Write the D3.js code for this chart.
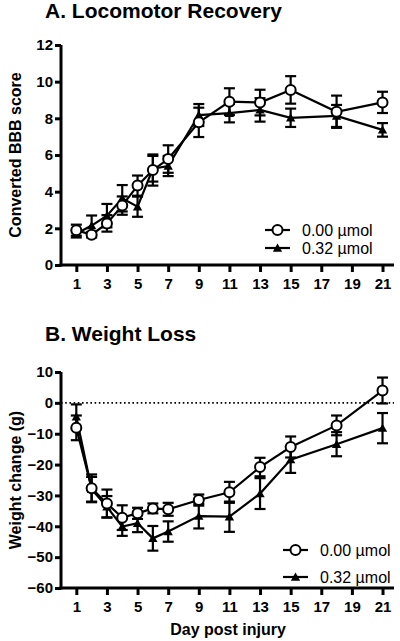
<!DOCTYPE html>
<html>
<head>
<meta charset="utf-8">
<script src="https://cdn.jsdelivr.net/npm/d3@7"></script>
<style>
html,body{margin:0;padding:0;background:#fff;}
svg{display:block;font-family:"Liberation Sans",Arial,Helvetica,sans-serif;}
</style>
</head>
<body>
<svg id="chart" width="400" height="641"></svg>
<script>
const days = [1, 2, 3, 4, 5, 6, 7, 9, 11, 13, 15, 18, 21];
const xTicks = [1, 3, 5, 7, 9, 11, 13, 15, 17, 19, 21];
const seriesNames = ["0.00 µmol", "0.32 µmol"];

const bbbVeh    = [1.9, 1.65, 2.27, 3.24, 4.33, 5.18, 5.78, 7.78, 8.91, 8.86, 9.55, 8.36, 8.87];
const bbbVehErr = [0.3, 0.15, 0.45, 0.5, 0.55, 0.85, 0.75, 0.8, 0.73, 0.7, 0.75, 0.88, 0.58];
const bbbTrt    = [1.7, 2.15, 2.69, 3.64, 3.18, 5.25, 5.4, 8.18, 8.28, 8.46, 8.03, 8.13, 7.37];
const bbbTrtErr = [0.2, 0.55, 0.64, 0.72, 0.55, 0.7, 0.55, 0.6, 0.5, 0.64, 0.5, 0.6, 0.37];
const bbbTicks  = [0, 2, 4, 6, 8, 10, 12];

const wVeh    = [-8.1, -27.7, -32.6, -37.2, -35.8, -34.2, -34.5, -31.5, -29.0, -20.8, -14.3, -7.3, 4.0];
const wVehErr = [4, 4.5, 4.5, 4, 1.8, 1.6, 2.1, 1.8, 3.4, 3, 3.4, 3.2, 4.2];
const wTrt    = [-4.5, -28, -33.7, -40.1, -39, -43.9, -41.7, -36.7, -36.9, -29.4, -18.4, -13.4, -8.2];
const wTrtErr = [4, 4, 3.5, 3, 2.9, 4, 3.3, 4, 4.9, 5, 4.3, 3.9, 4.9];
const wTicks  = [-60, -50, -40, -30, -20, -10, 0, 10];

const svg = d3.select("#chart");
const x = d3.scaleLinear().domain([0, 21.75]).range([61, 394]);

function panel(opts) {
  const g = svg.append("g");
  const y = d3.scaleLinear().domain(opts.yDomain).range([opts.yBottom, opts.yTop]);

  g.append("text").attr("x", 45).attr("y", opts.titleY)
    .attr("font-size", 21).attr("font-weight", "bold").text(opts.title);

  g.append("text")
    .attr("transform", `translate(21,${(opts.yTop + opts.yBottom) / 2}) rotate(-90)`)
    .attr("text-anchor", "middle").attr("font-size", 16).attr("font-weight", "bold")
    .text(opts.yLabel);

  if (opts.zeroLine) {
    g.append("line").attr("x1", x(0)).attr("x2", x.range()[1])
      .attr("y1", y(0)).attr("y2", y(0))
      .attr("stroke", "#000").attr("stroke-width", 1.6).attr("stroke-dasharray", "1.6,2.6");
  }

  const yAxis = g.append("g").attr("transform", `translate(${x(0)},0)`)
    .call(d3.axisLeft(y).tickValues(opts.yTicks).tickSize(6).tickSizeOuter(0).tickPadding(2));
  const xAxis = g.append("g").attr("transform", `translate(0,${opts.yBottom})`)
    .call(d3.axisBottom(x).tickValues(xTicks).tickSize(7).tickSizeOuter(0).tickPadding(6));
  [yAxis, xAxis].forEach(a => {
    a.select(".domain").attr("stroke-width", 3).attr("stroke", "#000");
    a.selectAll(".tick line").attr("stroke-width", 3).attr("stroke", "#000");
    a.selectAll(".tick text").attr("font-size", 15).attr("font-weight", "bold")
      .attr("font-family", '"Liberation Sans",Arial,sans-serif').attr("fill", "#000");
  });
  yAxis.select(".domain").attr("d", `M0,${opts.yTop}V${opts.yBottom + 1.5}`);
  xAxis.select(".domain").attr("d", `M${x(0) - 1.5},0H${x.range()[1]}`);

  const line = d3.line().x(d => x(d.day)).y(d => y(d.v));
  const tri = d3.symbol().type(d3.symbolTriangle).size(38);

  function drawSeries(vals, errs, marker) {
    const data = days.map((d, i) => ({day: d, v: vals[i], e: errs[i]}));
    const sg = g.append("g");
    sg.append("path").datum(data).attr("d", line)
      .attr("fill", "none").attr("stroke", "#000").attr("stroke-width", 2.2);
    const eb = sg.selectAll(".eb").data(data).enter().append("g");
    eb.append("line").attr("x1", d => x(d.day)).attr("x2", d => x(d.day))
      .attr("y1", d => y(d.v - d.e)).attr("y2", d => y(d.v + d.e))
      .attr("stroke", "#000").attr("stroke-width", 2.2);
    [-1, 1].forEach(s => {
      eb.append("line").attr("x1", d => x(d.day) - 5.5).attr("x2", d => x(d.day) + 5.5)
        .attr("y1", d => y(d.v + s * d.e)).attr("y2", d => y(d.v + s * d.e))
        .attr("stroke", "#000").attr("stroke-width", 2.2);
    });
    if (marker === "circle") {
      sg.selectAll(".m").data(data).enter().append("circle")
        .attr("cx", d => x(d.day)).attr("cy", d => y(d.v)).attr("r", 5)
        .attr("fill", "#fff").attr("stroke", "#000").attr("stroke-width", 2);
    } else {
      sg.selectAll(".m").data(data).enter().append("path")
        .attr("d", tri).attr("transform", d => `translate(${x(d.day)},${y(d.v) + 1})`)
        .attr("fill", "#000");
    }
  }
  drawSeries(opts.trt, opts.trtErr, "triangle");
  drawSeries(opts.veh, opts.vehErr, "circle");

  const lg = g.append("g");
  opts.legendRows.forEach((ry, i) => {
    const lx = opts.legendX;
    lg.append("line").attr("x1", lx).attr("x2", lx + 25).attr("y1", ry).attr("y2", ry)
      .attr("stroke", "#000").attr("stroke-width", 2.2);
    if (i === 0) {
      lg.append("circle").attr("cx", lx + 12.5).attr("cy", ry).attr("r", 5)
        .attr("fill", "#fff").attr("stroke", "#000").attr("stroke-width", 2);
    } else {
      lg.append("path").attr("d", tri).attr("transform", `translate(${lx + 12.5},${ry + 1})`)
        .attr("fill", "#000");
    }
    lg.append("text").attr("x", lx + 37).attr("y", ry + 6).attr("font-size", 16)
      .text(seriesNames[i]);
  });
  return g;
}

panel({
  title: "A. Locomotor Recovery", titleY: 18,
  yLabel: "Converted BBB score",
  yDomain: [0, 12], yTop: 45, yBottom: 265, yTicks: bbbTicks,
  veh: bbbVeh, vehErr: bbbVehErr, trt: bbbTrt, trtErr: bbbTrtErr,
  legendX: 265, legendRows: [230, 248]
});

panel({
  title: "B. Weight Loss", titleY: 341,
  yLabel: "Weight change (g)",
  yDomain: [-60, 10], yTop: 372, yBottom: 588, yTicks: wTicks, zeroLine: true,
  veh: wVeh, vehErr: wVehErr, trt: wTrt, trtErr: wTrtErr,
  legendX: 283, legendRows: [550, 577]
});

svg.append("text").attr("x", 228).attr("y", 635).attr("text-anchor", "middle")
  .attr("font-size", 16).attr("font-weight", "bold").text("Day post injury");
</script>
</body>
</html>
